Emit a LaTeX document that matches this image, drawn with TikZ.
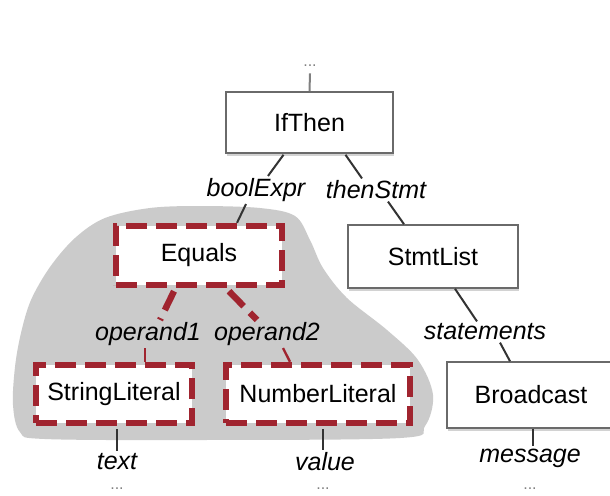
\documentclass[tikz,border=0pt]{standalone}
\usepackage{fontspec}
\setmainfont{Liberation Sans}
\usetikzlibrary{shadows,calc}
\definecolor{blobgrey}{HTML}{CBCBCB}
\definecolor{dred}{HTML}{A0242F}
\definecolor{edgec}{HTML}{333333}
\definecolor{boxline}{HTML}{6A6A6A}
\begin{document}
\begin{tikzpicture}[x=0.5pt,y=-0.5pt,
  boxtext/.style={font=\fontsize{12.5}{15}\selectfont},
  plainbox/.style={boxtext, draw=boxline, line width=0.8pt, fill=white, inner sep=0pt,
    drop shadow={shadow xshift=0.5pt, shadow yshift=-1.3pt, opacity=0.35}},
  redbox/.style={boxtext, draw=dred, line width=3.2pt, dash pattern=on 10.5pt off 4.5pt, fill=white, inner sep=0pt},
  lab/.style={font=\fontsize{12.5}{15}\selectfont\itshape, inner sep=1pt},
  conn/.style={draw=edgec, line width=1pt},
  rconn/.style={draw=dred, line width=3.2pt, dash pattern=on 10.5pt off 4.5pt},
  dots/.style={font=\fontsize{8}{9}\selectfont, text=gray, inner sep=0pt}
]
\useasboundingbox (0,0) rectangle (610,495);
\fill[white] (0,0) rectangle (610,495);
% grey blob
\fill[blobgrey] plot[smooth cycle, tension=0.55] coordinates {
  (20,432) (13,405) (15,367) (21,333) (31,300) (50,267) (75,238) (105,218)
  (150,208) (200,206) (260,208) (295,216) (310,240) (323,268) (347,298)
  (387,330) (418,360) (433,395) (425,426) (400,438) (200,440) (45,439)};

% nodes
\node[dots] (topdots) at (310,66) {...};
\node[plainbox, minimum width=83.5pt, minimum height=30.5pt] (ifthen) at (309.5,122.5) {IfThen};
\node[lab] (boolexpr) at (256,190) {boolExpr};
\node[lab] (thenstmt) at (376,190) {thenStmt};
\node[redbox, minimum width=83pt, minimum height=29.5pt] (equals) at (199,255.5) {Equals};
\node[plainbox, minimum width=85pt, minimum height=31.5pt] (stmtlist) at (433,256.5) {StmtList};
\node[lab] (operand1) at (148,334) {operand1};
\node[lab] (operand2) at (267,334) {operand2};
\node[lab] (statements) at (485,332) {statements};
\node[redbox, minimum width=78pt, minimum height=29pt] (strlit) at (114,394) {StringLiteral};
\node[redbox, minimum width=92pt, minimum height=29pt] (numlit) at (318,394) {NumberLiteral};
\node[plainbox, minimum width=84pt, minimum height=33pt] (broadcast) at (531,395) {Broadcast};
\node[lab] (textl) at (117,462) {text};
\node[lab] (valuel) at (325,462) {value};
\node[lab] (messagel) at (530,458) {message};
\node[dots] (d1) at (117,489) {...};
\node[dots] (d2) at (323,489) {...};
\node[dots] (d3) at (530,489) {...};

% connectors
\draw[conn, draw=gray] ($(topdots.south)+(0,6)$) -- (ifthen.north);
\draw[conn] ($(ifthen.south)+(-26,1)$) -- ($(boolexpr.north)+(12,0)$);
\draw[conn] ($(ifthen.south)+(36,1)$) -- ($(thenstmt.north)+(-14,0)$);
\draw[conn] ($(boolexpr.south)+(-10,0)$) -- ($(equals.north)+(38,0)$);
\draw[conn] ($(thenstmt.south)+(12,0)$) -- ($(stmtlist.north)+(-29,0)$);
\draw[conn] ($(stmtlist.south)+(22,0)$) -- ($(statements.north)+(-8,0)$);
\draw[conn] ($(statements.south)+(15,0)$) -- ($(broadcast.north)+(-21,0)$);
\draw[rconn] ($(equals.south)+(-25,3)$) -- ($(operand1.north)+(12,0)$);
\draw[rconn] ($(equals.south)+(30,3)$) -- ($(operand2.north)+(-10,0)$);
\draw[draw=dred, line width=1.2pt] ($(operand1.south)+(-3,0)$) -- ($(strlit.north)+(31,0)$);
\draw[draw=dred, line width=1.2pt] ($(operand2.south)+(16,0)$) -- ($(numlit.north)+(-28,0)$);
\draw[conn] ($(strlit.south)+(3,3)$) -- (textl.north);
\draw[conn] ($(numlit.south)+(5,3)$) -- ($(valuel.north)+(-2,0)$);
\draw[conn] ($(broadcast.south)+(2,0)$) -- ($(messagel.north)+(3,0)$);
\end{tikzpicture}
\end{document}
